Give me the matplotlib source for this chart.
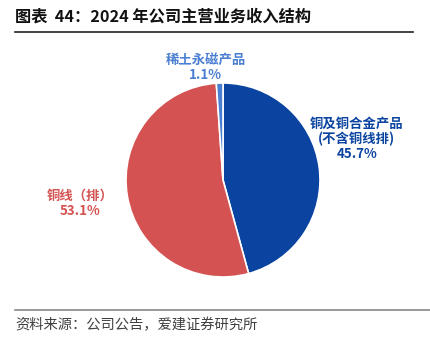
import matplotlib.pyplot as plt
from matplotlib.lines import Line2D

plt.rcParams['font.family'] = ['Noto Sans CJK SC', 'DejaVu Sans']

# Data
labels = ["铜及铜合金产品\n(不含铜线排)", "铜线（排）", "稀土永磁产品"]
shares = [45.7, 53.1, 1.1]
slice_colors = ["#0B44A0", "#D45352", "#4A7ED2"]
label_colors = ["#0B44A0", "#D45352", "#4A7ED2"]
# label anchor positions (figure fraction)
label_pos = [(0.83, 0.60), (0.186, 0.415), (0.478, 0.805)]

fig = plt.figure(figsize=(4.30, 3.47), dpi=100)

# pie axes: center ~ (223, 180) px, radius ~97
cx, cy, r = 223 / 430, 1 - 180 / 347, 97
ax = fig.add_axes([cx - r / 430, cy - r / 347, 2 * r / 430, 2 * r / 347])
ax.pie(
    shares,
    colors=slice_colors,
    startangle=90,
    counterclock=False,
    wedgeprops=dict(edgecolor="white", linewidth=1.2),
)
ax.set_xlim(-1, 1)
ax.set_ylim(-1, 1)
ax.set_aspect("equal")

for lab, val, col, (x, y) in zip(labels, shares, label_colors, label_pos):
    fig.text(x, y, f"{lab}\n{val:.1f}%", color=col, fontsize=9.6, fontweight="bold",
             ha="center", va="center", linespacing=1.1)

# title and rules
fig.text(15 / 430, 1 - 17 / 347, "图表  44：2024 年公司主营业务收入结构",
         fontsize=11.7, fontweight="bold", color="#111111", va="center", ha="left")
fig.add_artist(Line2D([15 / 430, 413 / 430], [1 - 32 / 347] * 2, color="#222222", lw=1.2))
fig.add_artist(Line2D([15 / 430, 430 / 430], [1 - 310 / 347] * 2, color="#888888", lw=1.2))
fig.text(15 / 430, 1 - 325 / 347, "资料来源：公司公告，爱建证券研究所",
         fontsize=10.3, color="#404040", va="center", ha="left")

fig.savefig("out.png", dpi=100)
